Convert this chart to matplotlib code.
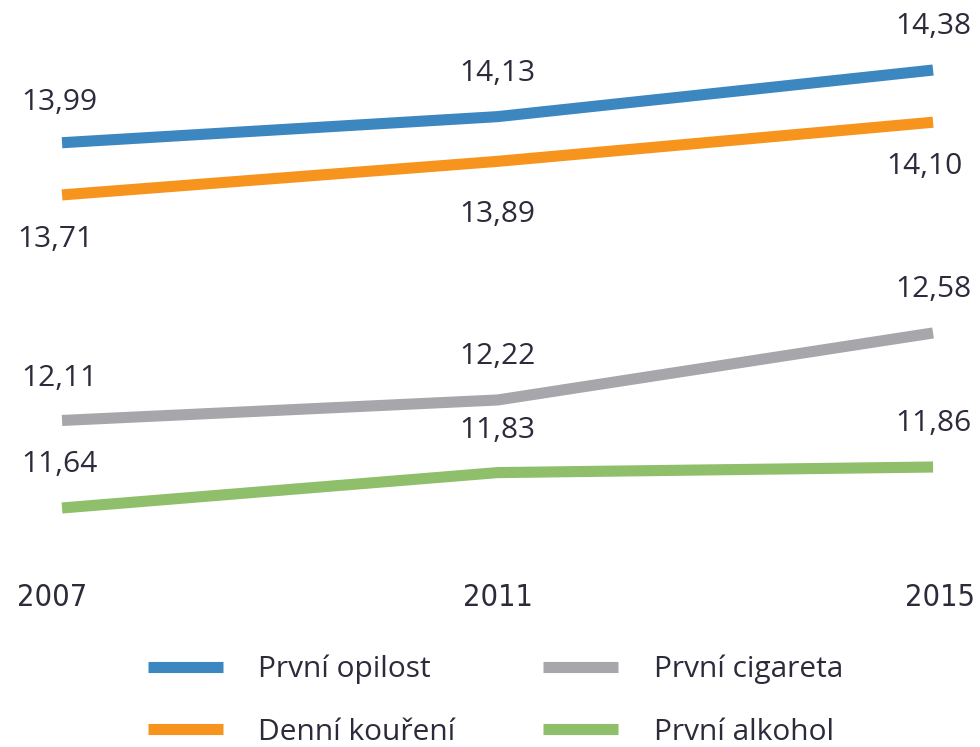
import matplotlib
matplotlib.use("Agg")
import matplotlib.pyplot as plt
import matplotlib.transforms as mtransforms

''' Data '''
years = [2007, 2011, 2015]
prvni_opilost = [13.99, 14.13, 14.38]
denni_koureni = [13.71, 13.89, 14.10]
prvni_cigareta = [12.11, 12.22, 12.58]
prvni_alkohol = [11.64, 11.83, 11.86]
series_names = ["První opilost", "Denní kouření", "První cigareta", "První alkohol"]

colors = ["#3d87c0", "#f7941d", "#a7a7ab", "#8fbf6a"]
text_color = "#2b2b3b"
plt.rcParams["font.family"] = ["Open Sans", "DejaVu Sans"]

fig = plt.figure(figsize=(9.8, 7.47), dpi=100)

# two stacked panels: the upper pair and the lower pair have their own y range
ax_top = fig.add_axes([0.0633, 0.6787, 0.8888, 0.2677])
ax_bot = fig.add_axes([0.0633, 0.2771, 0.8888, 0.3213])
ax_top.set_ylim(13.468, 14.541)
ax_bot.set_ylim(11.468, 12.757)
for ax in (ax_top, ax_bot):
    ax.set_xlim(2007, 2015)
    ax.axis("off")

lw = 8
h1, = ax_top.plot(years, prvni_opilost, color=colors[0], lw=lw, solid_capstyle="butt", clip_on=False)
h2, = ax_top.plot(years, denni_koureni, color=colors[1], lw=lw, solid_capstyle="butt", clip_on=False)
h3, = ax_bot.plot(years, prvni_cigareta, color=colors[2], lw=lw, solid_capstyle="butt", clip_on=False)
h4, = ax_bot.plot(years, prvni_alkohol, color=colors[3], lw=lw, solid_capstyle="butt", clip_on=False)

def fmt(v):
    return f"{v:.2f}".replace(".", ",")

# value labels, offsets in points (dx, dy)
fs = 21.5
def label(ax, xs, vals, offs):
    for x, v, (dx, dy) in zip(xs, vals, offs):
        ax.annotate(fmt(v), (x, v), xytext=(dx, dy), textcoords="offset points",
                    ha="center", va="center", fontsize=fs, color=text_color,
                    annotation_clip=False)

label(ax_top, years, prvni_opilost, [(-2, 29), (0, 31), (0, 31)])
label(ax_top, years, denni_koureni, [(-5, -32), (0, -38), (-6, -32)])
label(ax_bot, years, prvni_cigareta, [(-2, 30), (0, 31), (0, 31)])
label(ax_bot, years, prvni_alkohol, [(-2, 31), (0, 30), (0, 31)])

# year labels (condensed face)
trans = mtransforms.blended_transform_factory(ax_bot.transData, fig.transFigure)
for x, dx in zip(years, [-7, 0, 5]):
    t = ax_bot.text(x, 1 - 598 / 747, str(x), transform=trans,
                    ha="center", va="center", fontsize=22, color=text_color,
                    family="DejaVu Sans", fontstretch="condensed")
    t.set_transform(trans + mtransforms.ScaledTranslation(dx / 72, 0, fig.dpi_scale_trans))

fig.legend([h1, h2, h3, h4], series_names, ncol=2, loc="upper left",
           bbox_to_anchor=(148 / 980, 1 - 655 / 747), frameon=False, fontsize=fs,
           borderpad=0, borderaxespad=0,
           handlelength=2.5, handletextpad=1.2, columnspacing=2.93,
           labelspacing=1.12, labelcolor=text_color)

fig.savefig("out.png", dpi=100)
